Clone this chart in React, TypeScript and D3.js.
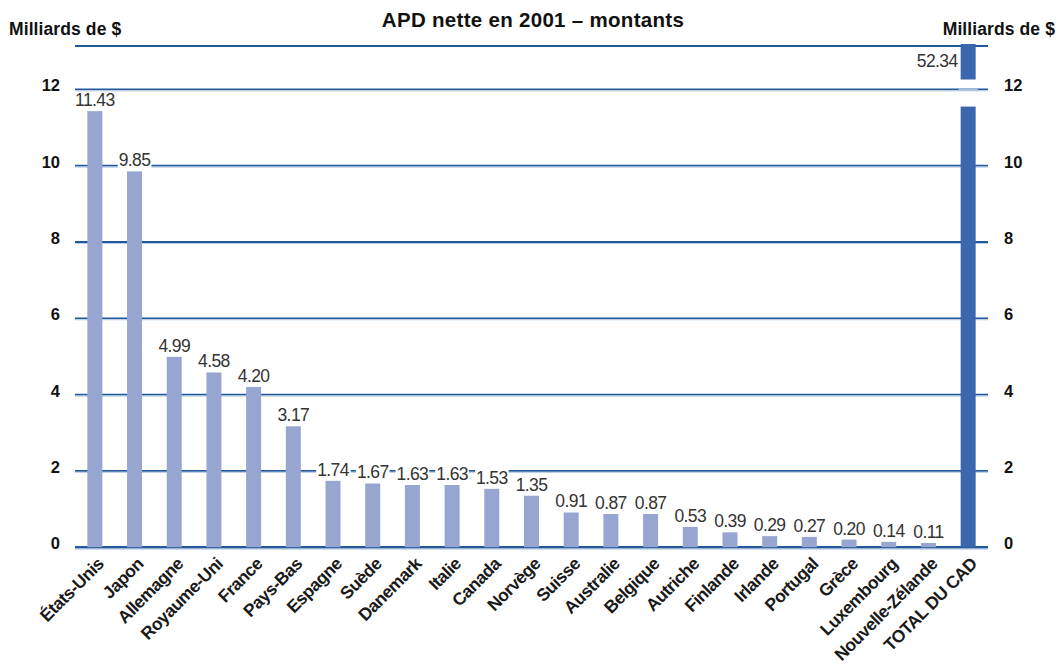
import React, { useEffect, useRef } from "react";
import * as d3 from "d3";

const categories = [
  "États-Unis", "Japon", "Allemagne", "Royaume-Uni", "France", "Pays-Bas",
  "Espagne", "Suède", "Danemark", "Italie", "Canada", "Norvège", "Suisse",
  "Australie", "Belgique", "Autriche", "Finlande", "Irlande", "Portugal",
  "Grèce", "Luxembourg", "Nouvelle-Zélande", "TOTAL DU CAD",
];
const values = [
  11.43, 9.85, 4.99, 4.58, 4.2, 3.17, 1.74, 1.67, 1.63, 1.63, 1.53, 1.35, 0.91,
  0.87, 0.87, 0.53, 0.39, 0.29, 0.27, 0.2, 0.14, 0.11, 52.34,
];
const totalCategory = "TOTAL DU CAD";
const yTicks = [0, 2, 4, 6, 8, 10, 12];
const yDomain = [0, 12];
const breakLow = 11.55; // where the total bar is cut on the lower scale
const upperDomain = [50.5, 52.34]; // upper (broken) segment of the total bar
const title = "APD nette en 2001 – montants";
const axisTitle = "Milliards de $";

const W = 1058;
const H = 666;
const FONT = "'Liberation Sans', Arial, Helvetica, sans-serif";

export default function App() {
  const ref = useRef<SVGSVGElement | null>(null);

  useEffect(() => {
    const svg = d3.select(ref.current);
    svg.selectAll("*").remove();

    const left = 75, right = 988, top = 46;
    const x = d3.scalePoint<string>().domain(categories).range([left, right]).padding(0.5);
    const y = d3.scaleLinear().domain(yDomain).range([547.2, 89.4]);
    const yUp = d3.scaleLinear().domain(upperDomain).range([79.5, 44]);
    const bw = 15;
    const grid = "#22599a";

    // title
    svg.append("text").attr("x", 533).attr("y", 26.5).attr("text-anchor", "middle")
      .attr("font-family", FONT).attr("font-weight", "bold").attr("font-size", 20.5)
      .attr("letter-spacing", 0.3).attr("fill", "#111").text(title);
    svg.append("text").attr("x", 9).attr("y", 35).attr("font-family", FONT)
      .attr("font-weight", "bold").attr("font-size", 17.5).attr("letter-spacing", 0.1)
      .attr("fill", "#111").text(axisTitle);
    svg.append("text").attr("x", 1055).attr("y", 35).attr("text-anchor", "end").attr("font-family", FONT)
      .attr("font-weight", "bold").attr("font-size", 17.5).attr("letter-spacing", 0.1)
      .attr("fill", "#111").text(axisTitle);

    // frame top line
    svg.append("line").attr("x1", left).attr("x2", right).attr("y1", top).attr("y2", top)
      .attr("stroke", grid).attr("stroke-width", 2);

    // gridlines
    svg.append("g").selectAll("line").data(yTicks).join("line")
      .attr("x1", left).attr("x2", right)
      .attr("y1", (d) => y(d)).attr("y2", (d) => y(d))
      .attr("stroke", grid).attr("stroke-width", (d) => (d === 0 ? 2.6 : 1.8));
    svg.append("g").selectAll("line").data(yTicks).join("line")
      .attr("x1", left).attr("x2", right)
      .attr("y1", (d) => y(d) + (d === 0 ? 2 : 1.5)).attr("y2", (d) => y(d) + (d === 0 ? 2 : 1.5))
      .attr("stroke", "#b9cbe4").attr("stroke-width", 1);

    // tick labels
    const tickStyle = (s: any) => s.attr("font-family", FONT).attr("font-weight", "bold")
      .attr("font-size", 16.5).attr("fill", "#111");
    svg.append("g").selectAll("text").data(yTicks).join("text")
      .attr("x", 60).attr("y", (d) => y(d) + 2).attr("text-anchor", "end")
      .call(tickStyle).text((d) => String(d));
    svg.append("g").selectAll("text").data(yTicks).join("text")
      .attr("x", 1004).attr("y", (d) => y(d) + 2).attr("text-anchor", "start")
      .call(tickStyle).text((d) => String(d));

    const data = categories.map((c, i) => ({ c, v: values[i] }));

    // bars
    const bars = svg.append("g");
    data.forEach((d) => {
      const cx = x(d.c)!;
      if (d.c === totalCategory) {
        bars.append("rect").attr("x", cx - bw / 2).attr("width", bw)
          .attr("y", y(breakLow)).attr("height", y(0) - y(breakLow)).attr("fill", "#3b67ae");
        bars.append("rect").attr("x", cx - bw / 2).attr("width", bw)
          .attr("y", yUp(d.v)).attr("height", yUp(upperDomain[0]) - yUp(d.v)).attr("fill", "#3b67ae");
        bars.append("line").attr("x1", cx - bw / 2 - 2).attr("x2", cx + bw / 2 + 2)
          .attr("y1", y(12)).attr("y2", y(12)).attr("stroke", "#a9bedc").attr("stroke-width", 2);
      } else {
        bars.append("rect").attr("x", cx - bw / 2).attr("width", bw)
          .attr("y", y(d.v)).attr("height", y(0) - y(d.v)).attr("fill", "#97a6d1");
      }
    });

    // value labels
    const lab = svg.append("g");
    data.forEach((d) => {
      const cx = x(d.c)!;
      const isTotal = d.c === totalCategory;
      const g = lab.append("g");
      const bg = g.append("rect").attr("fill", "#fff");
      const t = g.append("text").attr("font-family", FONT).attr("font-size", 17.5)
        .attr("letter-spacing", -0.6).attr("fill", "#333").text(d.v.toFixed(2));
      if (isTotal) {
        t.attr("x", cx - bw / 2 - 3).attr("y", yUp(d.v) + 22.5).attr("text-anchor", "end");
      } else {
        t.attr("x", cx).attr("y", y(d.v) - 5).attr("text-anchor", "middle");
      }
      const bb = (t.node() as SVGTextElement).getBBox();
      bg.attr("x", bb.x - 1).attr("y", bb.y + 2).attr("width", bb.width + 2).attr("height", bb.height - 4);
    });

    // category labels
    svg.append("g").selectAll("text").data(categories).join("text")
      .attr("transform", (c) => `translate(${x(c)! + 10},565) rotate(-45)`)
      .attr("text-anchor", "end").attr("font-family", FONT).attr("font-weight", "bold")
      .attr("font-size", 17.5).attr("letter-spacing", -0.5).attr("fill", "#1a1a1a")
      .text((c) => c);
  }, []);

  return (
    <svg ref={ref} width={W} height={H}
      style={{ position: "absolute", left: 0, top: 0, background: "#fff" }} />
  );
}
